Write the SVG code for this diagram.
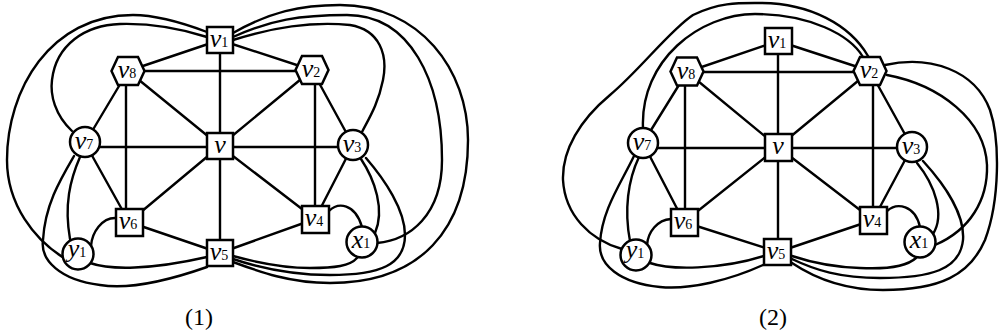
<svg xmlns="http://www.w3.org/2000/svg" width="1000" height="334" viewBox="0 0 1000 334">
<style>
.e{fill:none;stroke:#000;stroke-width:2.4;stroke-linecap:round}
.n{fill:#fff;stroke:#000;stroke-width:2.5}
.t{font-family:"Liberation Serif",serif;font-style:italic;font-size:26px;text-anchor:middle;fill:#000}
.s{font-style:normal;font-size:14px}
.cap{font-family:"Liberation Serif",serif;font-size:24px;text-anchor:middle;fill:#000}
</style>
<rect width="1000" height="334" fill="#fff"/>
<g id="connectors">
<!-- diagram 1 straight edges -->
<line class="e" x1="220" y1="40" x2="128" y2="71"/>
<line class="e" x1="220" y1="40" x2="312" y2="70"/>
<line class="e" x1="220" y1="40" x2="220" y2="253"/>
<line class="e" x1="128" y1="71" x2="312" y2="71"/>
<line class="e" x1="128" y1="71" x2="220" y2="146"/>
<line class="e" x1="312" y1="70" x2="220" y2="146"/>
<line class="e" x1="128" y1="71" x2="85" y2="143"/>
<line class="e" x1="126" y1="71" x2="126" y2="222"/>
<line class="e" x1="312" y1="70" x2="353" y2="145"/>
<line class="e" x1="315" y1="70" x2="315" y2="219"/>
<line class="e" x1="85" y1="147" x2="353" y2="147"/>
<line class="e" x1="85" y1="143" x2="129" y2="222"/>
<line class="e" x1="220" y1="146" x2="129" y2="222"/>
<line class="e" x1="220" y1="146" x2="315" y2="219"/>
<line class="e" x1="129" y1="222" x2="220" y2="253"/>
<line class="e" x1="315" y1="219" x2="220" y2="253"/>
<line class="e" x1="353" y1="145" x2="315" y2="219"/>
<!-- diagram 1 curves -->
<path class="e" d="M233,33 C270,12 300,5 340,5 C420,5 468,70 468,140 C468,230 420,283 330,283 C290,283 260,272 233,262"/>
<path class="e" d="M233,37 C270,20 300,15 347,15 C410,15 442,80 442,160 C442,215 410,240 377,243"/>
<path class="e" d="M233,40 C280,25 320,22 350,25 C380,30 388,55 383,80 C378,105 368,120 362,132"/>
<path class="e" d="M207,32 C170,18 150,15 133,15 C50,15 7,90 7,160 C7,205 35,240 64,258"/>
<path class="e" d="M72,131 C55,115 50,95 52,80 C56,45 85,25 120,24 C155,23 185,30 207,37"/>
<path class="e" d="M80,157 C70,180 64,205 70,239"/>
<path class="e" d="M207,267 C170,280 130,290 100,285 C60,280 40,260 43,240 C45,205 60,180 74,156"/>
<path class="e" d="M90,263 C110,270 150,270 207,257"/>
<path class="e" d="M91,246 C92,232 102,218 115,218"/>
<path class="e" d="M329,211 C338,202 355,203 362,227"/>
<path class="e" d="M361,159 C375,180 385,210 375,233"/>
<path class="e" d="M366,158 C385,180 405,210 405,235 C405,265 380,275 330,275 C290,275 260,268 233,259"/>
<path class="e" d="M357,258 C350,266 335,268 310,268 C280,268 255,262 233,256"/>
<!-- diagram 2 straight edges -->
<line class="e" x1="778" y1="41" x2="687" y2="72"/>
<line class="e" x1="778" y1="41" x2="870" y2="71"/>
<line class="e" x1="778" y1="41" x2="778" y2="252"/>
<line class="e" x1="687" y1="72" x2="870" y2="72"/>
<line class="e" x1="687" y1="72" x2="778" y2="147"/>
<line class="e" x1="870" y1="71" x2="778" y2="147"/>
<line class="e" x1="687" y1="72" x2="643" y2="143"/>
<line class="e" x1="685" y1="72" x2="685" y2="222"/>
<line class="e" x1="870" y1="71" x2="912" y2="147"/>
<line class="e" x1="873" y1="71" x2="873" y2="220"/>
<line class="e" x1="643" y1="148" x2="912" y2="148"/>
<line class="e" x1="643" y1="143" x2="684" y2="222"/>
<line class="e" x1="778" y1="147" x2="684" y2="222"/>
<line class="e" x1="778" y1="147" x2="873" y2="220"/>
<line class="e" x1="684" y1="222" x2="778" y2="252"/>
<line class="e" x1="873" y1="220" x2="778" y2="252"/>
<line class="e" x1="912" y1="147" x2="873" y2="220"/>
<!-- diagram 2 curves -->
<path class="e" d="M643,128 C640,60 700,14 755,14 C810,14 850,35 863,57"/>
<path class="e" d="M622,249 C590,240 565,215 563,180 C562,150 580,120 610,95 C640,70 670,30 693,15 C720,2 740,3 760,3 C810,3 850,25 868,56"/>
<path class="e" d="M885,65 C930,55 975,70 990,110 C1000,140 1000,200 985,240 C970,275 940,290 883,290 C840,290 810,275 792,263"/>
<path class="e" d="M887,75 C940,85 985,120 987,165 C988,200 970,230 935,245"/>
<path class="e" d="M917,163 C935,185 945,215 933,234"/>
<path class="e" d="M923,161 C945,185 965,215 963,240 C960,270 930,278 880,278 C840,278 815,270 792,259"/>
<path class="e" d="M916,258 C905,268 880,269 860,268 C830,267 810,262 792,256"/>
<path class="e" d="M887,211 C897,202 915,205 920,227"/>
<path class="e" d="M639,157 C628,180 624,210 630,241"/>
<path class="e" d="M763,265 C730,280 690,290 660,287 C620,283 598,265 600,243 C602,210 620,185 634,156"/>
<path class="e" d="M650,263 C670,270 720,270 764,256"/>
<path class="e" d="M647,245 C648,232 657,220 671,219"/>
</g>
<!-- diagram 1 nodes -->
<g id="d1-v1"><rect class="n" x="207" y="27" width="26" height="26"/><text class="t" x="219" y="47">v<tspan class="s">1</tspan></text></g>
<g id="d1-v8"><polygon class="n" points="111.5,71 118,57 138,57 144.5,71 138,85 118,85"/><text class="t" x="127" y="78">v<tspan class="s">8</tspan></text></g>
<g id="d1-v2"><polygon class="n" points="295.5,70 302,56 322,56 328.5,70 322,84 302,84"/><text class="t" x="311" y="77">v<tspan class="s">2</tspan></text></g>
<g id="d1-v7"><circle class="n" cx="85" cy="142" r="15"/><text class="t" x="84" y="149">v<tspan class="s">7</tspan></text></g>
<g id="d1-v"><rect class="n" x="207" y="133" width="26" height="26"/><text class="t" x="220" y="153">v</text></g>
<g id="d1-v3"><circle class="n" cx="353" cy="145" r="15"/><text class="t" x="352" y="152">v<tspan class="s">3</tspan></text></g>
<g id="d1-v6"><rect class="n" x="116" y="209" width="27" height="27"/><text class="t" x="128" y="229">v<tspan class="s">6</tspan></text></g>
<g id="d1-v4"><rect class="n" x="302" y="206" width="27" height="27"/><text class="t" x="314" y="226">v<tspan class="s">4</tspan></text></g>
<g id="d1-v5"><rect class="n" x="207" y="240" width="26" height="26"/><text class="t" x="219" y="260">v<tspan class="s">5</tspan></text></g>
<g id="d1-y1"><circle class="n" cx="78" cy="254" r="15.5"/><text class="t" x="77" y="257">y<tspan class="s">1</tspan></text></g>
<g id="d1-x1"><circle class="n" cx="362" cy="242" r="15.5"/><text class="t" x="361" y="248">x<tspan class="s">1</tspan></text></g>
<!-- diagram 2 nodes -->
<g id="d2-v1"><rect class="n" x="765" y="28" width="27" height="26"/><text class="t" x="777" y="48">v<tspan class="s">1</tspan></text></g>
<g id="d2-v8"><polygon class="n" points="670.5,71.5 677,57.5 697,57.5 703.5,71.5 697,85.5 677,85.5"/><text class="t" x="686" y="78.5">v<tspan class="s">8</tspan></text></g>
<g id="d2-v2"><polygon class="n" points="853.5,71 860,57 880,57 886.5,71 880,85 860,85"/><text class="t" x="869" y="78">v<tspan class="s">2</tspan></text></g>
<g id="d2-v7"><circle class="n" cx="643" cy="143" r="15"/><text class="t" x="642" y="150">v<tspan class="s">7</tspan></text></g>
<g id="d2-v"><rect class="n" x="765" y="134" width="27" height="27"/><text class="t" x="778" y="154">v</text></g>
<g id="d2-v3"><circle class="n" cx="912" cy="147" r="15"/><text class="t" x="911" y="154">v<tspan class="s">3</tspan></text></g>
<g id="d2-v6"><rect class="n" x="671" y="209" width="27" height="27"/><text class="t" x="683" y="229">v<tspan class="s">6</tspan></text></g>
<g id="d2-v4"><rect class="n" x="860" y="207" width="27" height="27"/><text class="t" x="872" y="227">v<tspan class="s">4</tspan></text></g>
<g id="d2-v5"><rect class="n" x="764" y="239" width="27" height="26"/><text class="t" x="776" y="259">v<tspan class="s">5</tspan></text></g>
<g id="d2-y1"><circle class="n" cx="636" cy="255" r="15.5"/><text class="t" x="635" y="258">y<tspan class="s">1</tspan></text></g>
<g id="d2-x1"><circle class="n" cx="920" cy="242" r="15.5"/><text class="t" x="919" y="248">x<tspan class="s">1</tspan></text></g>
<text class="cap" x="199" y="325">(1)</text>
<text class="cap" x="773" y="325">(2)</text>
</svg>
